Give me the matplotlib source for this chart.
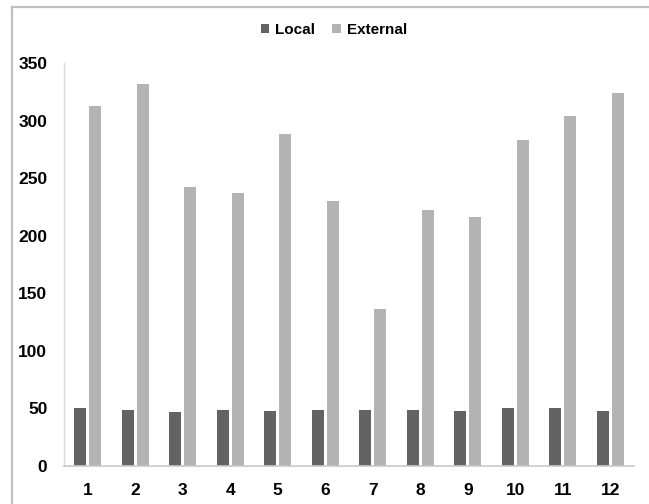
import matplotlib
matplotlib.use("Agg")
import matplotlib.pyplot as plt
from matplotlib.lines import Line2D
import numpy as np

categories = ["1", "2", "3", "4", "5", "6", "7", "8", "9", "10", "11", "12"]
local = [50, 49, 47, 49, 48, 49, 49, 49, 48, 50, 50, 48]
external = [313, 332, 242, 237, 288, 230, 136, 222, 216, 283, 304, 324]
yticks = [0, 50, 100, 150, 200, 250, 300, 350]

plt.rcParams['font.family'] = ['Liberation Sans Narrow', 'Liberation Sans', 'DejaVu Sans']
plt.rcParams['font.weight'] = 'bold'

W, H = 649, 504
fig = plt.figure(figsize=(W / 100, H / 100), dpi=100)
fig.patch.set_facecolor("white")

ax = fig.add_axes([64 / W, 38 / H, 570 / W, 403 / H])
x = np.arange(len(categories))
bw = 0.25
off = 0.16
ax.bar(x - off, local, width=bw, color="#636363", label="Local")
ax.bar(x + off, external, width=bw, color="#b3b3b3", label="External")

ax.set_xlim(-0.5, len(categories) - 0.5)
ax.set_ylim(0, 350)
ax.set_yticks(yticks)
ax.set_yticklabels([str(v) for v in yticks])
ax.set_xticks(x)
ax.set_xticklabels(categories)
ax.tick_params(axis="both", length=0, labelsize=12.5, colors="black")
ax.tick_params(axis="y", pad=12)
ax.tick_params(axis="x", pad=12)
for lab in ax.get_xticklabels() + ax.get_yticklabels():
    lab.set_fontweight("bold")

for s in ["top", "right"]:
    ax.spines[s].set_visible(False)
ax.spines["left"].set_color("#d9d9d9")
ax.spines["bottom"].set_color("#c8c8c8")
ax.spines["left"].set_linewidth(1.0)
ax.spines["bottom"].set_linewidth(1.2)

# outer frame (top and left edges)
fig.add_artist(Line2D([12 / W, 1.0], [1 - 7 / H, 1 - 7 / H], transform=fig.transFigure,
                      color="#c0c0c0", lw=1.6))
fig.add_artist(Line2D([12 / W, 12 / W], [0.0, 1 - 7 / H], transform=fig.transFigure,
                      color="#c0c0c0", lw=1.6))

leg = fig.legend(loc="center", bbox_to_anchor=(334 / W, 1 - 30 / H), ncol=2,
                 frameon=False, fontsize=11, handlelength=0.55, handleheight=0.55,
                 handletextpad=0.4, columnspacing=1.1, borderaxespad=0)
for t in leg.get_texts():
    t.set_fontweight("bold")

fig.savefig("out.png", dpi=100, facecolor="white")
